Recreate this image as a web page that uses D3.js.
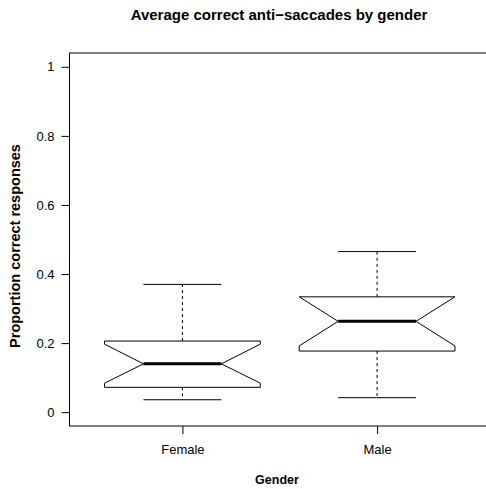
<!DOCTYPE html>
<html><head><meta charset="utf-8">
<script src="https://cdn.jsdelivr.net/npm/d3@7"></script>
<style>body{margin:0;background:#fff}svg{display:block}text{font-family:"Liberation Sans",Arial,sans-serif}</style>
</head><body>
<script>
const categories = ["Female", "Male"];
const whiskerLow = [0.036, 0.042];
const q1 = [0.072, 0.177];
const medians = [0.140, 0.263];
const q3 = [0.206, 0.334];
const whiskerHigh = [0.370, 0.465];
const notchLow = [0.084, 0.192];
const notchHigh = [0.197, 0.334];
const yTicks = [0, 0.2, 0.4, 0.6, 0.8, 1];
const yTickLabels = ["0", "0.2", "0.4", "0.6", "0.8", "1"];

const W = 486, H = 489;
const svg = d3.select("body").append("svg").attr("width", W).attr("height", H);

const x = d3.scaleLinear().domain([0.42, 2.58]).range([69.5, 490]);
const y = d3.scaleLinear().domain([-0.04, 1.04]).range([426, 53]);

// plot frame
svg.append("rect").attr("x", x(0.42)).attr("y", y(1.04))
  .attr("width", x(2.58) - x(0.42)).attr("height", y(-0.04) - y(1.04))
  .attr("fill", "none").attr("stroke", "#000").attr("stroke-width", 1);

// y axis
const yAxis = d3.axisLeft(y).tickValues(yTicks).tickFormat((d, i) => yTickLabels[i]).tickSize(8).tickPadding(7);
const gy = svg.append("g").attr("transform", `translate(${x(0.42)},0)`).call(yAxis);
gy.select(".domain").remove();
gy.selectAll("text").attr("font-size", 13).attr("fill", "#000").style("font-family", "Liberation Sans, Arial, sans-serif");
gy.selectAll("line").attr("stroke", "#000");

// x axis
const xAxis = d3.axisBottom(x).tickValues([1, 2]).tickFormat((d, i) => categories[i]).tickSize(8).tickPadding(11);
const gx = svg.append("g").attr("transform", `translate(0,${y(-0.04)})`).call(xAxis);
gx.select(".domain").remove();
gx.selectAll("text").attr("font-size", 13).attr("fill", "#000").style("font-family", "Liberation Sans, Arial, sans-serif");
gx.selectAll("line").attr("stroke", "#000");

// boxes
const bw = 0.4, nw = 0.2, cw = 0.2;
categories.forEach((c, i) => {
  const cx = i + 1;
  const g = svg.append("g");
  g.append("line").attr("x1", x(cx)).attr("x2", x(cx)).attr("y1", y(q3[i])).attr("y2", y(whiskerHigh[i]))
    .attr("stroke", "#000").attr("stroke-dasharray", "3,3");
  g.append("line").attr("x1", x(cx)).attr("x2", x(cx)).attr("y1", y(q1[i])).attr("y2", y(whiskerLow[i]))
    .attr("stroke", "#000").attr("stroke-dasharray", "3,3");
  [whiskerHigh[i], whiskerLow[i]].forEach(v => {
    g.append("line").attr("x1", x(cx - cw)).attr("x2", x(cx + cw)).attr("y1", y(v)).attr("y2", y(v)).attr("stroke", "#000");
  });
  const pts = [
    [cx - bw, q1[i]], [cx - bw, notchLow[i]], [cx - nw, medians[i]], [cx - bw, notchHigh[i]], [cx - bw, q3[i]],
    [cx + bw, q3[i]], [cx + bw, notchHigh[i]], [cx + nw, medians[i]], [cx + bw, notchLow[i]], [cx + bw, q1[i]]
  ];
  g.append("path").attr("d", d3.line().x(d => x(d[0])).y(d => y(d[1]))(pts) + "Z")
    .attr("fill", "#fff").attr("stroke", "#000").attr("stroke-width", 1);
  g.append("line").attr("x1", x(cx - nw)).attr("x2", x(cx + nw)).attr("y1", y(medians[i])).attr("y2", y(medians[i]))
    .attr("stroke", "#000").attr("stroke-width", 3);
});

// titles
svg.append("text").attr("x", 279).attr("y", 19.5).attr("text-anchor", "middle")
  .attr("font-size", 15).attr("font-weight", "bold").text("Average correct anti\u2212saccades by gender");
svg.append("text").attr("x", 277).attr("y", 484).attr("text-anchor", "middle")
  .attr("font-size", 12.5).attr("font-weight", "bold").text("Gender");
svg.append("text").attr("transform", "translate(20,246) rotate(-90)").attr("text-anchor", "middle")
  .attr("font-size", 14.5).attr("font-weight", "bold").text("Proportion correct responses");
</script>
</body></html>
